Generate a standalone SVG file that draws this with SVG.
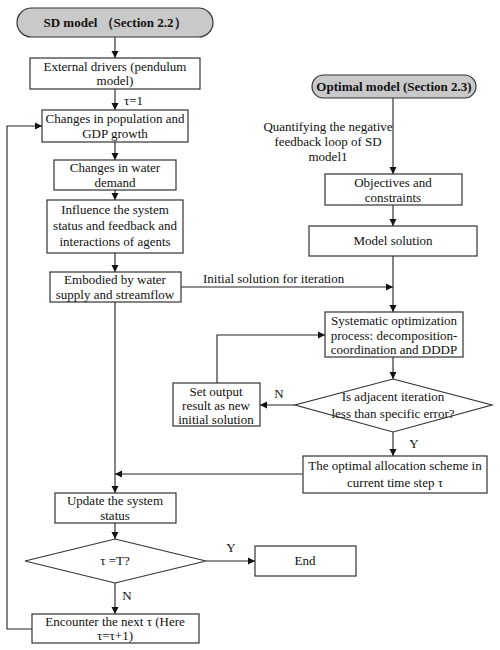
<svg xmlns="http://www.w3.org/2000/svg" width="500" height="650" viewBox="0 0 500 650">
<style>
.box{fill:#fff;stroke:#333;stroke-width:1.2}
.term{fill:#c9c9c9;stroke:#333;stroke-width:1.2}
.t{font-family:"Liberation Serif","Times New Roman",serif;font-size:13px;fill:#111;text-anchor:middle}
.s{text-anchor:start}
.b{font-weight:bold}
.ln{fill:none;stroke:#222;stroke-width:1.1}
</style>
<defs>
<marker id="ah" markerWidth="8" markerHeight="8" refX="7" refY="4" orient="auto" markerUnits="userSpaceOnUse">
<path d="M0,0.5 L7,4 L0,7.5 Z" fill="#111"/>
</marker>
</defs>
<rect width="500" height="650" fill="#fff"/>
<g id="connectors">
<line class="ln" x1="115" y1="37" x2="115" y2="58" marker-end="url(#ah)"/>
<line class="ln" x1="115" y1="89" x2="115" y2="110" marker-end="url(#ah)"/>
<line class="ln" x1="115" y1="142" x2="115" y2="160" marker-end="url(#ah)"/>
<line class="ln" x1="115" y1="190" x2="115" y2="200" marker-end="url(#ah)"/>
<line class="ln" x1="115" y1="253" x2="115" y2="272" marker-end="url(#ah)"/>
<line class="ln" x1="115" y1="302" x2="115" y2="493" marker-end="url(#ah)"/>
<line class="ln" x1="181" y1="287" x2="393" y2="287" marker-end="url(#ah)"/>
<line class="ln" x1="393" y1="98" x2="393" y2="174" marker-end="url(#ah)"/>
<line class="ln" x1="393" y1="205" x2="393" y2="226" marker-end="url(#ah)"/>
<line class="ln" x1="393" y1="256" x2="393" y2="312" marker-end="url(#ah)"/>
<line class="ln" x1="393" y1="357" x2="393" y2="379" marker-end="url(#ah)"/>
<line class="ln" x1="295" y1="405" x2="260" y2="405" marker-end="url(#ah)"/>
<polyline class="ln" points="217,383 217,335 325,335" marker-end="url(#ah)"/>
<line class="ln" x1="393" y1="432" x2="393" y2="456" marker-end="url(#ah)"/>
<line class="ln" x1="303" y1="474" x2="115" y2="474" marker-end="url(#ah)"/>
<line class="ln" x1="115" y1="523" x2="115" y2="539" marker-end="url(#ah)"/>
<line class="ln" x1="206" y1="561" x2="255" y2="561" marker-end="url(#ah)"/>
<line class="ln" x1="115" y1="583" x2="115" y2="614" marker-end="url(#ah)"/>
<polyline class="ln" points="32,629 7,629 7,126 42,126" marker-end="url(#ah)"/>
<text class="t s" x="124" y="105">τ=1</text>
<text class="t s" x="203" y="283">Initial solution for iteration</text>
<text class="t" x="328" y="131">Quantifying the negative</text>
<text class="t" x="328" y="146">feedback loop of SD</text>
<text class="t" x="328" y="161">model1</text>
<text class="t" x="279" y="398">N</text>
<text class="t" x="414" y="448">Y</text>
<text class="t" x="231" y="552">Y</text>
<text class="t" x="127" y="600">N</text>
</g>
<g id="sd-model">
<rect class="term" x="17" y="8" width="196" height="29" rx="14.5"/>
<text class="t b" x="115" y="27">SD model （Section 2.2）</text>
</g>
<g id="external-drivers">
<rect class="box" x="30" y="58" width="170" height="31"/>
<text class="t" x="115" y="71">External drivers (pendulum</text>
<text class="t" x="115" y="85">model)</text>
</g>
<g id="population">
<rect class="box" x="42" y="110" width="146" height="32"/>
<text class="t" x="115" y="123">Changes in population and</text>
<text class="t" x="115" y="138">GDP growth</text>
</g>
<g id="water-demand">
<rect class="box" x="54" y="160" width="122" height="30"/>
<text class="t" x="115" y="172">Changes in water</text>
<text class="t" x="115" y="187">demand</text>
</g>
<g id="influence">
<rect class="box" x="47" y="200" width="136" height="53"/>
<text class="t" x="115" y="214">Influence the system</text>
<text class="t" x="115" y="230">status and feedback and</text>
<text class="t" x="115" y="246">interactions of agents</text>
</g>
<g id="embodied">
<rect class="box" x="50" y="272" width="131" height="30"/>
<text class="t" x="115" y="284">Embodied by water</text>
<text class="t" x="115" y="299">supply and streamflow</text>
</g>
<g id="optimal-model">
<rect class="term" x="312" y="75" width="164" height="23" rx="11.5"/>
<text class="t b" x="394" y="91">Optimal model (Section 2.3)</text>
</g>
<g id="objectives">
<rect class="box" x="325" y="174" width="137" height="31"/>
<text class="t" x="393" y="187">Objectives and</text>
<text class="t" x="393" y="202">constraints</text>
</g>
<g id="model-solution">
<rect class="box" x="309" y="226" width="168" height="30"/>
<text class="t" x="393" y="245">Model solution</text>
</g>
<g id="systematic">
<rect class="box" x="325" y="312" width="138" height="45"/>
<text class="t" x="394" y="325">Systematic optimization</text>
<text class="t" x="394" y="340">process: decomposition-</text>
<text class="t" x="394" y="354">coordination and DDDP</text>
</g>
<g id="set-output">
<rect class="box" x="173" y="383" width="87" height="43"/>
<text class="t" x="216" y="396">Set output</text>
<text class="t" x="216" y="410">result as new</text>
<text class="t" x="216" y="424">initial solution</text>
</g>
<g id="iteration-check">
<polygon class="box" points="393,379 492,405 393,432 295,405"/>
<text class="t" x="393" y="401">Is adjacent iteration</text>
<text class="t" x="393" y="418">less than specific error?</text>
</g>
<g id="allocation">
<rect class="box" x="303" y="456" width="184" height="37"/>
<text class="t" x="395" y="470">The optimal allocation scheme in</text>
<text class="t" x="395" y="487">current time step τ</text>
</g>
<g id="update">
<rect class="box" x="55" y="493" width="121" height="30"/>
<text class="t" x="115" y="505">Update the system</text>
<text class="t" x="115" y="520">status</text>
</g>
<g id="time-check">
<polygon class="box" points="115,539 206,561 115,583 25,561"/>
<text class="t" x="115" y="565">τ =T?</text>
</g>
<g id="end">
<rect class="box" x="255" y="546" width="101" height="30"/>
<text class="t" x="305" y="565">End</text>
</g>
<g id="encounter">
<rect class="box" x="32" y="614" width="167" height="29"/>
<text class="t" x="115" y="626">Encounter the next τ (Here</text>
<text class="t" x="115" y="640">τ=τ+1)</text>
</g>
</svg>
